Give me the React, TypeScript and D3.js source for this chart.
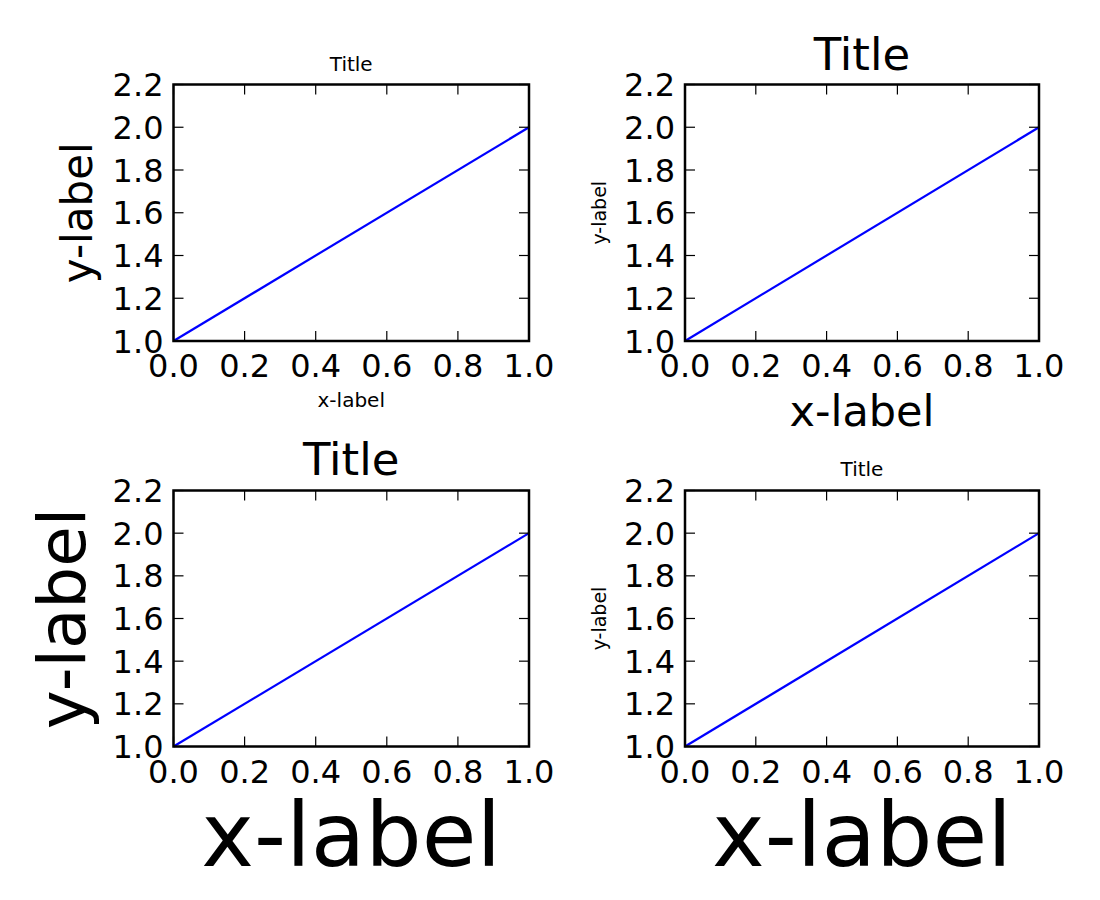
import React from 'react';
import * as d3 from 'd3';

// data: the same line in every panel
const xValues = [0, 1];
const yValues = [1, 2];
const xTicks = [0, 0.2, 0.4, 0.6, 0.8, 1.0];
const yTicks = [1.0, 1.2, 1.4, 1.6, 1.8, 2.0, 2.2];
const titleText = 'Title';
const xLabelText = 'x-label';
const yLabelText = 'y-label';

// layout for the four panels (pixels)
const panels = [
  { left: 173.5, right: 529, top: 84.5, bottom: 341, titleSize: 20, titleY: 71, xlabSize: 20, xlabY: 407, ylabSize: 42, ylabX: 92 },
  { left: 685, right: 1039, top: 84.5, bottom: 341, titleSize: 45, titleY: 70, xlabSize: 43, xlabY: 426, ylabSize: 19, ylabX: 606 },
  { left: 173.5, right: 529, top: 490.5, bottom: 746.5, titleSize: 45, titleY: 475, xlabSize: 89, xlabY: 866, ylabSize: 66, ylabX: 85 },
  { left: 685, right: 1039, top: 490.5, bottom: 746.5, titleSize: 20, titleY: 476, xlabSize: 89, xlabY: 866, ylabSize: 19, ylabX: 606 },
];

const FONT = '"DejaVu Sans", sans-serif';
const TICK = 10;
const TICK_FONT = 32;

function Panel({ p }: { p: typeof panels[number] }) {
  const x = d3.scaleLinear().domain([0, 1]).range([p.left, p.right]);
  const y = d3.scaleLinear().domain([1, 2.2]).range([p.bottom, p.top]);
  const line = d3
    .line<number>()
    .x((_, i) => x(xValues[i]))
    .y((d) => y(d));
  const cx = (p.left + p.right) / 2;
  const cy = (p.top + p.bottom) / 2;

  return (
    <g>
      <path d={line(yValues) || ''} fill="none" stroke="#0000ff" strokeWidth={2.2} />
      {/* ticks, inside on all four sides */}
      {xTicks.map((t) => (
        <g key={'x' + t}>
          <line x1={x(t)} x2={x(t)} y1={p.bottom} y2={p.bottom - TICK} stroke="#000" strokeWidth={1.2} />
          <line x1={x(t)} x2={x(t)} y1={p.top} y2={p.top + TICK} stroke="#000" strokeWidth={1.2} />
          <text x={x(t)} y={p.bottom + 36} textAnchor="middle" fontSize={TICK_FONT} fontFamily={FONT} fill="#000">
            {t.toFixed(1)}
          </text>
        </g>
      ))}
      {yTicks.map((t) => (
        <g key={'y' + t}>
          <line x1={p.left} x2={p.left + TICK} y1={y(t)} y2={y(t)} stroke="#000" strokeWidth={1.2} />
          <line x1={p.right} x2={p.right - TICK} y1={y(t)} y2={y(t)} stroke="#000" strokeWidth={1.2} />
          <text x={p.left - 10} y={y(t)} dy="0.36em" textAnchor="end" fontSize={TICK_FONT} fontFamily={FONT} fill="#000">
            {t.toFixed(1)}
          </text>
        </g>
      ))}
      <rect
        x={p.left}
        y={p.top}
        width={p.right - p.left}
        height={p.bottom - p.top}
        fill="none"
        stroke="#000"
        strokeWidth={2.5}
      />
      <text x={cx} y={p.titleY} textAnchor="middle" fontSize={p.titleSize} fontFamily={FONT} fill="#000">
        {titleText}
      </text>
      <text x={cx} y={p.xlabY} textAnchor="middle" fontSize={p.xlabSize} fontFamily={FONT} fill="#000">
        {xLabelText}
      </text>
      <text
        transform={`translate(${p.ylabX},${cy}) rotate(-90)`}
        textAnchor="middle"
        fontSize={p.ylabSize}
        fontFamily={FONT}
        fill="#000"
      >
        {yLabelText}
      </text>
    </g>
  );
}

export default function App() {
  return (
    <svg
      width={1100}
      height={900}
      style={{ position: 'absolute', left: 0, top: 0, background: '#fff' }}
    >
      <rect width={1100} height={900} fill="#fff" />
      {panels.map((p, i) => (
        <Panel key={i} p={p} />
      ))}
    </svg>
  );
}
